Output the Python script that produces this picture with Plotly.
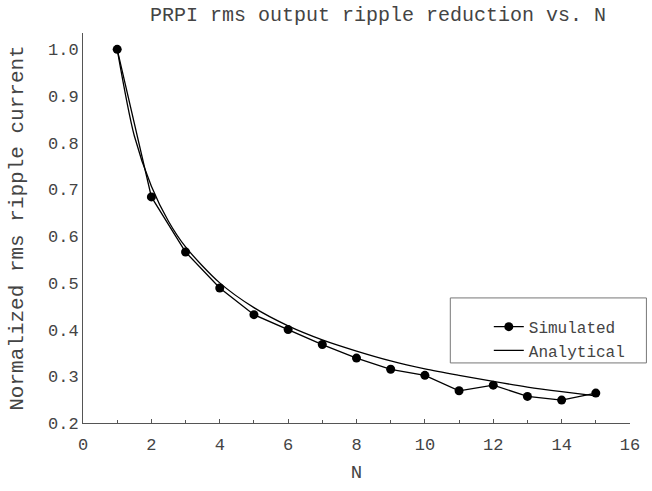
import plotly.graph_objects as go

# Data
n_sim = [1, 2, 3, 4, 5, 6, 7, 8, 9, 10, 11, 12, 13, 14, 15]
simulated = [1.0, 0.684, 0.566, 0.489, 0.432, 0.400, 0.368, 0.339, 0.315,
             0.302, 0.269, 0.281, 0.257, 0.249, 0.264]

n_ana = [1, 1.5, 2, 2.5, 3, 4, 5, 6, 7, 8, 9, 10, 11, 12, 13, 14, 15]
analytical = [1.0, 0.815, 0.707, 0.632, 0.577, 0.500, 0.447, 0.408, 0.378,
              0.354, 0.333, 0.316, 0.302, 0.289, 0.277, 0.267, 0.258]

x_ticks = [0, 2, 4, 6, 8, 10, 12, 14, 16]
y_ticks = [0.2, 0.3, 0.4, 0.5, 0.6, 0.7, 0.8, 0.9, 1.0]

title_text = "PRPI rms output ripple reduction vs. N"
x_title = "N"
y_title = "Normalized rms ripple current"

FONT = "Liberation Mono"
TXT = "#444444"

fig = go.Figure()
fig.add_trace(go.Scatter(
    x=n_sim, y=simulated, name="Simulated", mode="lines+markers",
    line=dict(color="black", width=1.3),
    marker=dict(color="black", size=9, symbol="circle"),
))
fig.add_trace(go.Scatter(
    x=n_ana, y=analytical, name="Analytical", mode="lines",
    line=dict(color="black", width=1.3, shape="spline", smoothing=0.8),
))

# legend frame
fig.add_shape(type="rect", xref="paper", yref="paper",
              x0=(455 - 83) / 554, x1=1.03, y0=(429 - 368) / 396, y1=(429 - 302) / 396,
              line=dict(color="#777777", width=1), fillcolor="rgba(0,0,0,0)")

fig.update_layout(
    width=652, height=491,
    margin=dict(l=83, r=15, t=33, b=62),
    paper_bgcolor="white", plot_bgcolor="white",
    font=dict(family=FONT, color=TXT, size=17),
    title=dict(text=title_text, x=378 / 652, xanchor="center",
               y=1 - 14 / 491, yanchor="middle",
               font=dict(family=FONT, size=20, color=TXT)),
    showlegend=True,
    legend=dict(x=(494 - 83) / 554, y=(429 - 314) / 396, xanchor="left", yanchor="top",
                bgcolor="rgba(0,0,0,0)", borderwidth=0,
                font=dict(family=FONT, size=16, color=TXT),
                tracegroupgap=0),
    xaxis=dict(range=[0, 16], tickvals=x_ticks, showgrid=False, zeroline=False,
               showline=True, linecolor="#555555", linewidth=1,
               ticks="inside", ticklen=4, tickcolor="#555555",
               ticklabelstandoff=6,
               minor=dict(dtick=1, ticks="inside", ticklen=3, tickcolor="#555555"),
               tickfont=dict(family=FONT, size=17, color=TXT),
               title=dict(text=x_title, standoff=10,
                          font=dict(family=FONT, size=19, color=TXT))),
    yaxis=dict(range=[0.2, 1.035], tickvals=y_ticks, tickformat=".1f",
               showgrid=False, zeroline=False,
               showline=True, linecolor="#555555", linewidth=1,
               ticks="", ticklen=0, tickfont=dict(family=FONT, size=17, color=TXT),
               title=dict(text=y_title, standoff=18,
                          font=dict(family=FONT, size=21, color=TXT))),
)

fig.write_html("out.html",
               config={"displayModeBar": False},
               post_script="document.body.style.margin='0';document.body.style.overflow='hidden';")
